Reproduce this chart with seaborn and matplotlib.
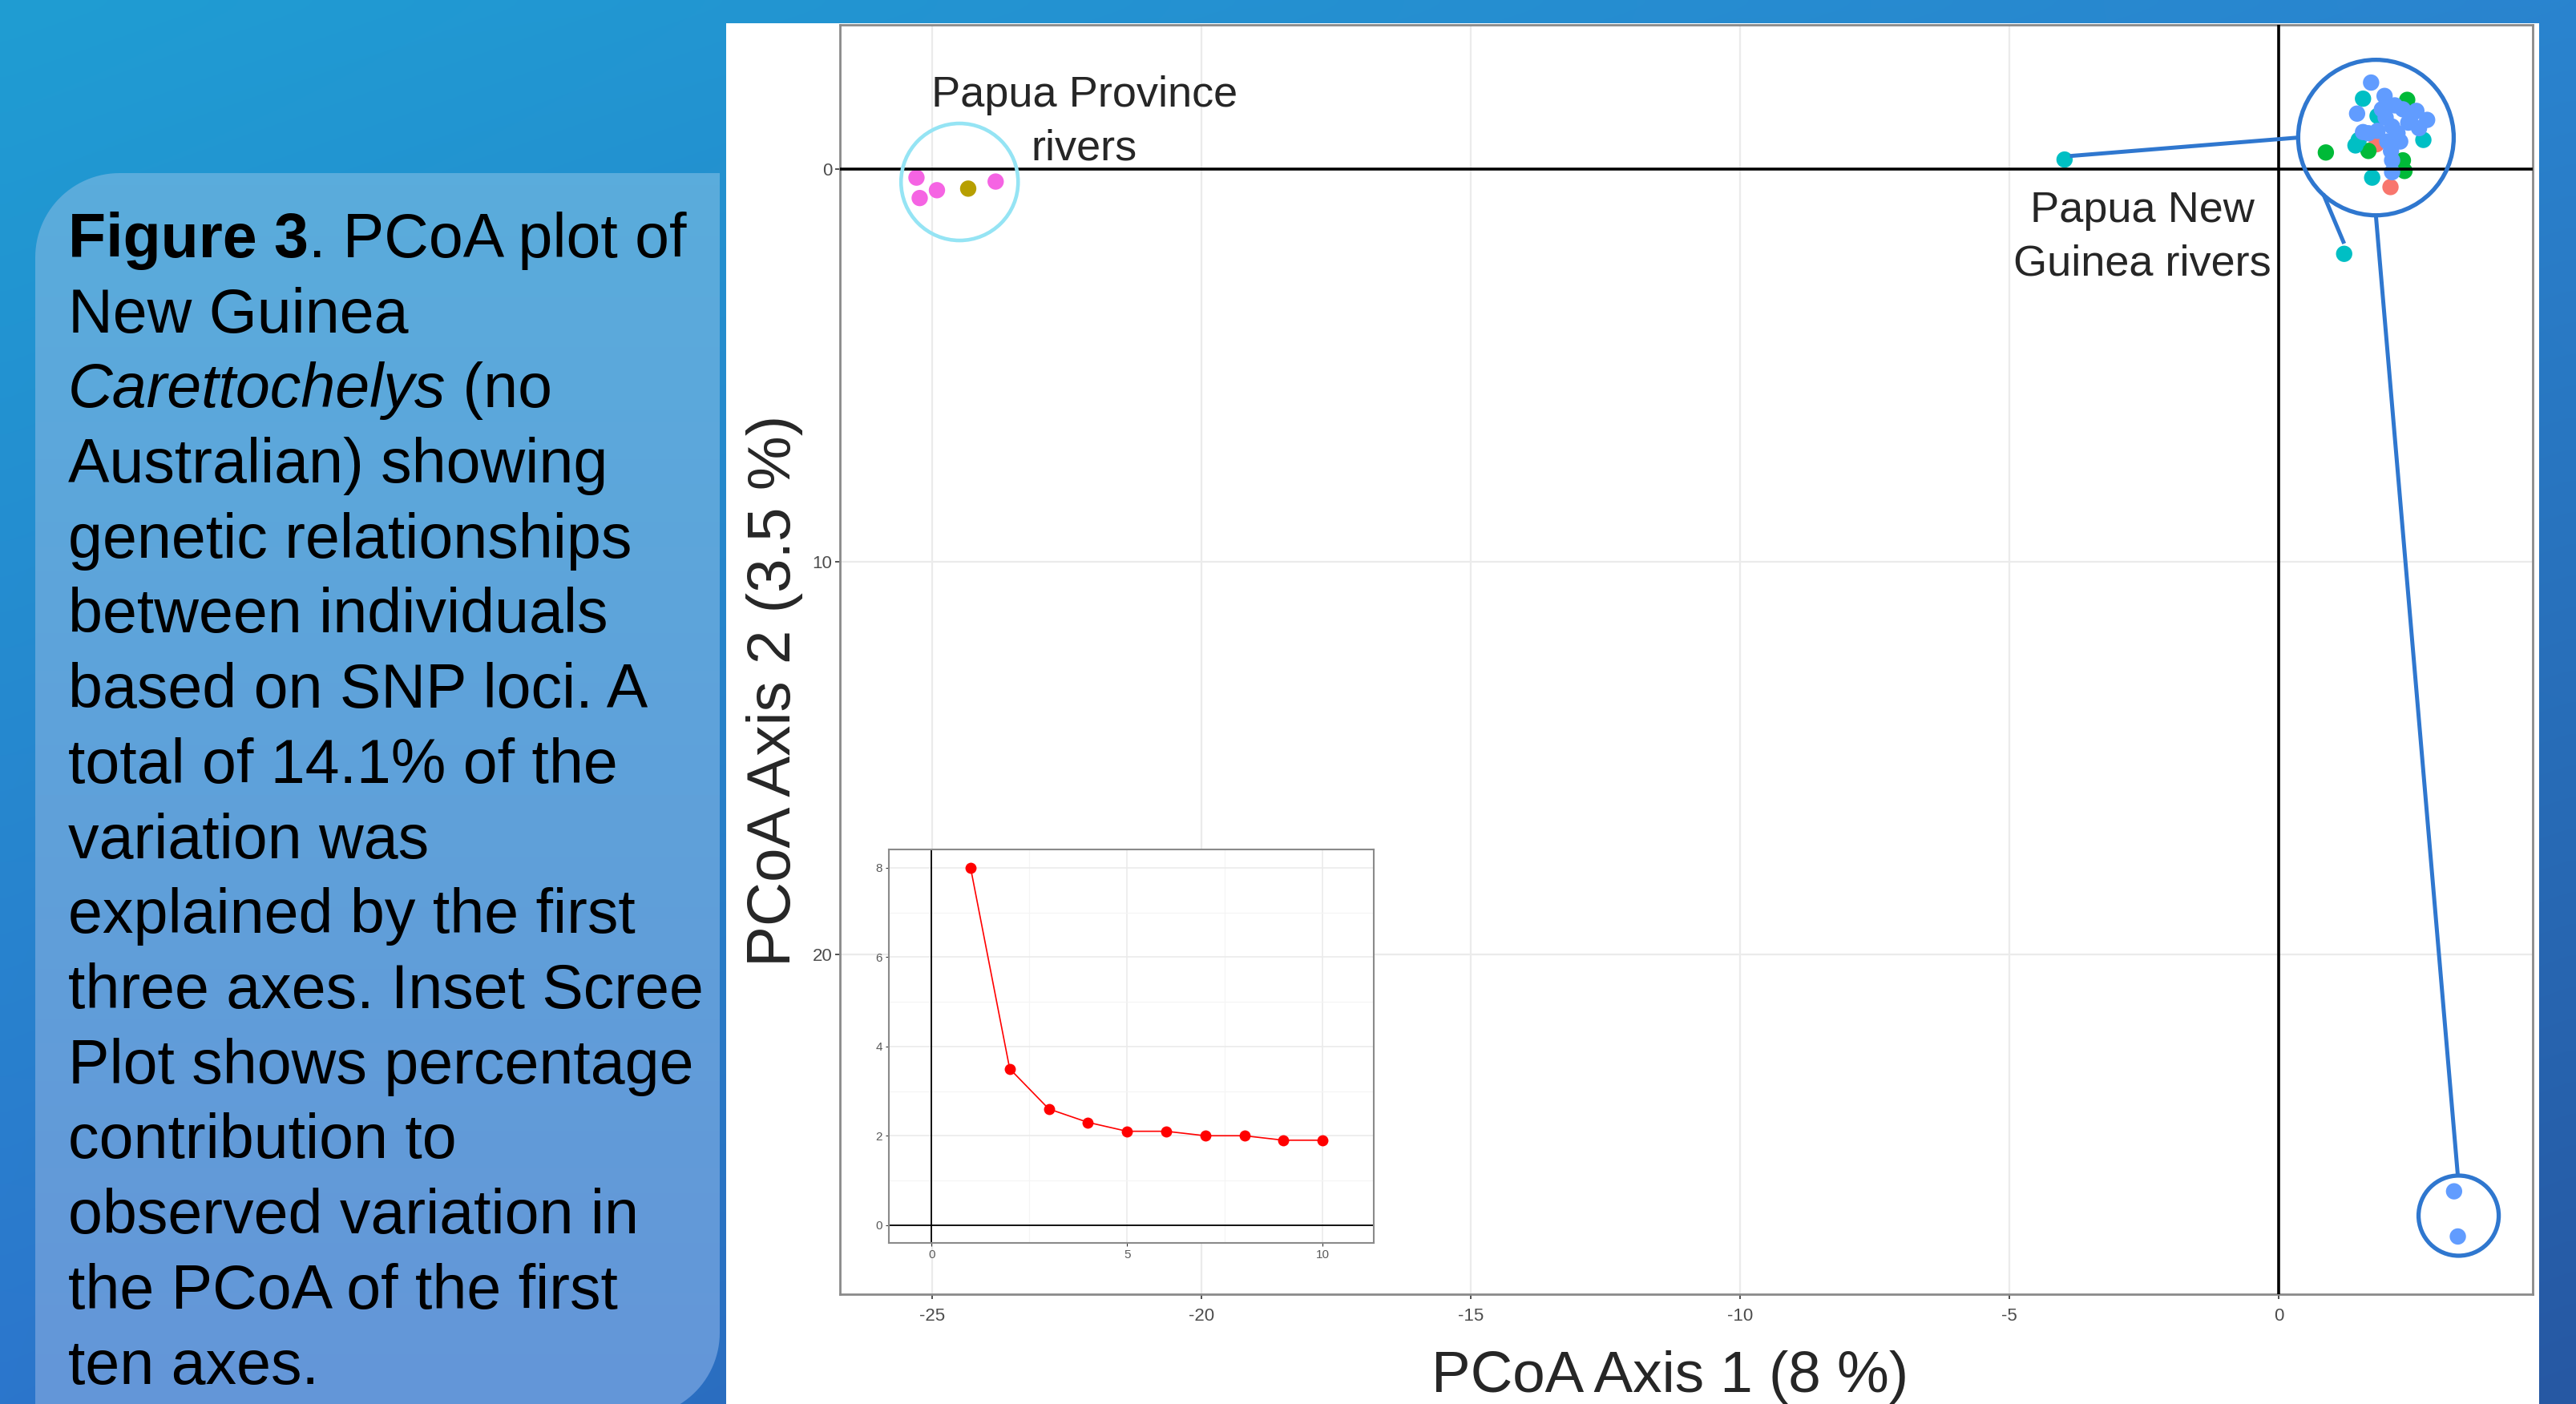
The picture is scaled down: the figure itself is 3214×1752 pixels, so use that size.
import numpy as np
import pandas as pd
import matplotlib
matplotlib.use("Agg")
import matplotlib.pyplot as plt
import seaborn as sns
from matplotlib.patches import Ellipse, Rectangle, PathPatch
from matplotlib.path import Path
from matplotlib.colors import to_rgb

# PCoA scores per population (axis 1, axis 2)
pop1_pc1 = [2.07, 1.81]
pop1_pc2 = [0.46, -0.63]
pop2_pc1 = [-24.33]
pop2_pc2 = [0.50]
pop3_pc1 = [2.38, 0.87, 1.66, 2.30, 2.33]
pop3_pc2 = [-1.76, -0.42, -0.46, -0.22, 0.05]
pop4_pc1 = [-3.98, 1.21, 1.56, 1.42, 2.68, 1.73, 1.83, 1.48]
pop4_pc2 = [-0.24, 2.16, -1.79, -0.60, -0.74, 0.22, -1.35, -0.74]
pop5_pc1 = [1.71, 1.96, 1.45, 2.15, 2.30, 2.55, 2.75, 1.98, 2.10, 2.20, 1.66, 1.83,
            2.01, 2.25, 2.08, 2.10, 2.10, 2.40, 2.60, 2.45, 1.91, 1.56, 3.25, 3.32]
pop5_pc2 = [-2.20, -1.86, -1.41, -1.62, -1.52, -1.48, -1.25, -1.31, -1.08, -0.91, -0.91, -0.97,
            -0.70, -0.70, -0.46, -0.22, 0.08, -1.18, -1.04, -1.35, -1.52, -0.94, 26.03, 27.18]
pop6_pc1 = [-25.29, -25.23, -24.91, -23.82]
pop6_pc2 = [0.22, 0.74, 0.54, 0.32]

pop_names = ["pop1", "pop2", "pop3", "pop4", "pop5", "pop6"]
pop_colours = ["#F8766D", "#B79F00", "#00BA38", "#00BFC4", "#619CFF", "#F564E3"]

# scree plot: % variation explained by the first ten axes
scree_axis = [1, 2, 3, 4, 5, 6, 7, 8, 9, 10]
scree_pct = [8.0, 3.5, 2.6, 2.3, 2.1, 2.1, 2.0, 2.0, 1.9, 1.9]

caption = [
    [("Figure 3", "bold", "normal"), (". PCoA plot of", "normal", "normal")],
    [("New Guinea", "normal", "normal")],
    [("Carettochelys", "normal", "italic"), (" (no", "normal", "normal")],
    [("Australian) showing", "normal", "normal")],
    [("genetic relationships", "normal", "normal")],
    [("between individuals", "normal", "normal")],
    [("based on SNP loci. A", "normal", "normal")],
    [("total of 14.1% of the", "normal", "normal")],
    [("variation was", "normal", "normal")],
    [("explained by the first", "normal", "normal")],
    [("three axes. Inset Scree", "normal", "normal")],
    [("Plot shows percentage", "normal", "normal")],
    [("contribution to", "normal", "normal")],
    [("observed variation in", "normal", "normal")],
    [("the PCoA of the first", "normal", "normal")],
    [("ten axes.", "normal", "normal")],
]

pc1 = pop1_pc1 + pop2_pc1 + pop3_pc1 + pop4_pc1 + pop5_pc1 + pop6_pc1
pc2 = pop1_pc2 + pop2_pc2 + pop3_pc2 + pop4_pc2 + pop5_pc2 + pop6_pc2
pops = (["pop1"] * len(pop1_pc1) + ["pop2"] * len(pop2_pc1) + ["pop3"] * len(pop3_pc1)
        + ["pop4"] * len(pop4_pc1) + ["pop5"] * len(pop5_pc1) + ["pop6"] * len(pop6_pc1))
df = pd.DataFrame({"pc1": pc1, "pc2": pc2, "pop": pops})
scree = pd.DataFrame({"axis": scree_axis, "pct": scree_pct})

sns.set_style("white")
plt.rcParams["font.family"] = ["Liberation Sans", "DejaVu Sans"]
plt.rcParams["axes.unicode_minus"] = False

W, H = 3214, 1752
fig = plt.figure(figsize=(W / 100, H / 100), dpi=100)

# ---- slide background (pixel coordinates, y down) ----
bg = fig.add_axes([0, 0, 1, 1], zorder=-5)
bg.set_axis_off()
yy, xx = np.mgrid[0:1:120j, 0:1:220j]
tl, tr, bl, br = [np.array(to_rgb(c)) for c in ("#1f9dd3", "#2a84cf", "#2c76cc", "#2658a3")]
grad = ((1 - xx)[..., None] * (1 - yy)[..., None] * tl + xx[..., None] * (1 - yy)[..., None] * tr
        + (1 - xx)[..., None] * yy[..., None] * bl + xx[..., None] * yy[..., None] * br)
bg.imshow(grad, extent=[0, W, H, 0], aspect="auto", interpolation="bicubic")
bg.add_patch(Rectangle((906, 29), 3168 - 906, H, fc="white", ec="none"))

# caption box with two rounded corners
L, R, T, B, r = 44, 898, 216, 1768, 105
a1 = np.linspace(np.pi, 1.5 * np.pi, 30)
a2 = np.linspace(0, 0.5 * np.pi, 30)
verts = ([(L, B)] + list(zip(L + r + r * np.cos(a1), T + r + r * np.sin(a1)))
         + [(R, T)] + list(zip(R - r + r * np.cos(a2), B - r + r * np.sin(a2))) + [(L, B)])
box = PathPatch(Path(verts), fc="none", ec="none")
bg.add_patch(box)
vg = np.linspace(0, 1, 100)[:, None, None]
box_grad = (1 - vg) * np.array(to_rgb("#5aacdc")) + vg * np.array(to_rgb("#6496d8"))
im = bg.imshow(np.repeat(box_grad, 2, axis=1), extent=[L, R, B, T], aspect="auto")
im.set_clip_path(box)
bg.set_xlim(0, W)
bg.set_ylim(H, 0)

for i, parts in enumerate(caption):
    yb = 321 + 93.7 * i
    prev = None
    for txt, wt, st in parts:
        if prev is None:
            prev = bg.text(85, yb, txt, fontsize=55.5, fontweight=wt, fontstyle=st,
                           va="baseline", ha="left", color="black")
        else:
            prev = bg.annotate(txt, xy=(1, 0), xycoords=prev, fontsize=55.5, fontweight=wt,
                               fontstyle=st, va="bottom", ha="left", color="black")

# ---- main PCoA plot ----
ax = fig.add_axes([1048 / W, 1 - 1615 / H, (3160 - 1048) / W, (1615 - 31) / H], zorder=1)
sns.scatterplot(data=df, x="pc1", y="pc2", hue="pop", hue_order=pop_names,
                palette=dict(zip(pop_names, pop_colours)), s=215, linewidth=0,
                legend=False, ax=ax, zorder=2)
ax.axhline(0, color="black", lw=2.6, zorder=3)
ax.axvline(0, color="black", lw=2.6, zorder=3)
ax.set_xlim(-26.71, 4.71)
ax.set_ylim(28.65, -3.67)
ax.set_xticks([-25, -20, -15, -10, -5, 0])
ax.set_yticks([0, 10, 20])
ax.grid(True, color="#ebebeb", lw=1.6, zorder=0)
ax.set_axisbelow(True)
ax.set_xlabel("")
ax.set_ylabel("")
for s in ax.spines.values():
    s.set_color("#8a8a8a")
    s.set_linewidth(2)
ax.tick_params(axis="both", length=4.5, width=1.2, color="#333333", labelcolor="#4d4d4d",
               labelsize=16, left=True, bottom=True)
ax.tick_params(axis="x", pad=8)
ax.tick_params(axis="y", pad=2.5)

# annotation rings and connectors (pixel sizes converted to data units)
px_x, px_y = 67.2, 49.0
ring_blue = "#2f77cf"
ax.add_patch(Ellipse((-24.49, 0.33), 2 * 73 / px_x, 2 * 73 / px_y, fill=False,
                     ec="#95e4f4", lw=3.3, zorder=5))
ax.add_patch(Ellipse((1.80, -0.80), 2 * 97 / px_x, 2 * 97 / px_y, fill=False,
                     ec=ring_blue, lw=3.8, zorder=5))
ax.add_patch(Ellipse((3.335, 26.65), 2 * 50 / px_x, 2 * 50 / px_y, fill=False,
                     ec=ring_blue, lw=3.8, zorder=5))
for (x1, y1), (x2, y2) in [((-3.88, -0.33), (0.36, -0.80)),
                           ((0.82, 0.63), (1.21, 1.90)),
                           ((1.80, 1.20), (3.32, 25.63))]:
    ax.plot([x1, x2], [y1, y2], color=ring_blue, lw=3.6, zorder=5, solid_capstyle="butt")

# ---- inset scree plot ----
axi = fig.add_axes([1109 / W, 1 - 1551 / H, (1714 - 1109) / W, (1551 - 1060) / H], zorder=2)
axi.set_facecolor("white")
axi.axhline(0, color="black", lw=1.3, zorder=1)
axi.axvline(0, color="black", lw=1.3, zorder=1)
sns.lineplot(data=scree, x="axis", y="pct", color="red", lw=1.2, marker="o",
             markersize=10, markeredgewidth=0, ax=axi, zorder=3)
axi.set_xlim(-1.09, 11.31)
axi.set_ylim(-0.40, 8.41)
axi.set_xticks([0, 5, 10])
axi.set_yticks([0, 2, 4, 6, 8])
axi.set_xticks([2.5, 7.5], minor=True)
axi.set_yticks([1, 3, 5, 7], minor=True)
axi.grid(True, which="major", color="#ebebeb", lw=1.2)
axi.grid(True, which="minor", color="#f4f4f4", lw=0.8)
axi.set_axisbelow(True)
axi.set_xlabel("")
axi.set_ylabel("")
for s in axi.spines.values():
    s.set_color("#8a8a8a")
    s.set_linewidth(1.5)
axi.tick_params(axis="both", which="major", length=3, width=0.8, color="#333333",
                labelcolor="#5a5a5a", labelsize=11, pad=3, left=True, bottom=True)
axi.tick_params(which="minor", length=0)

# ---- titles and group labels ----
fig.text(2084 / W, 1 - 1737 / H, "PCoA Axis 1 (8 %)", fontsize=52.5, ha="center", va="baseline")
fig.text(966 / W, 1 - 862 / H, "PCoA Axis 2 (3.5 %)", fontsize=55, rotation=90,
         ha="center", va="center")
for txt, cx, yb in [("Papua Province", 1353, 133), ("rivers", 1353, 200),
                    ("Papua New", 2673, 277), ("Guinea rivers", 2673, 343)]:
    fig.text(cx / W, 1 - yb / H, txt, fontsize=39, ha="center", va="baseline", zorder=6)

fig.savefig("out.png", dpi=100)
